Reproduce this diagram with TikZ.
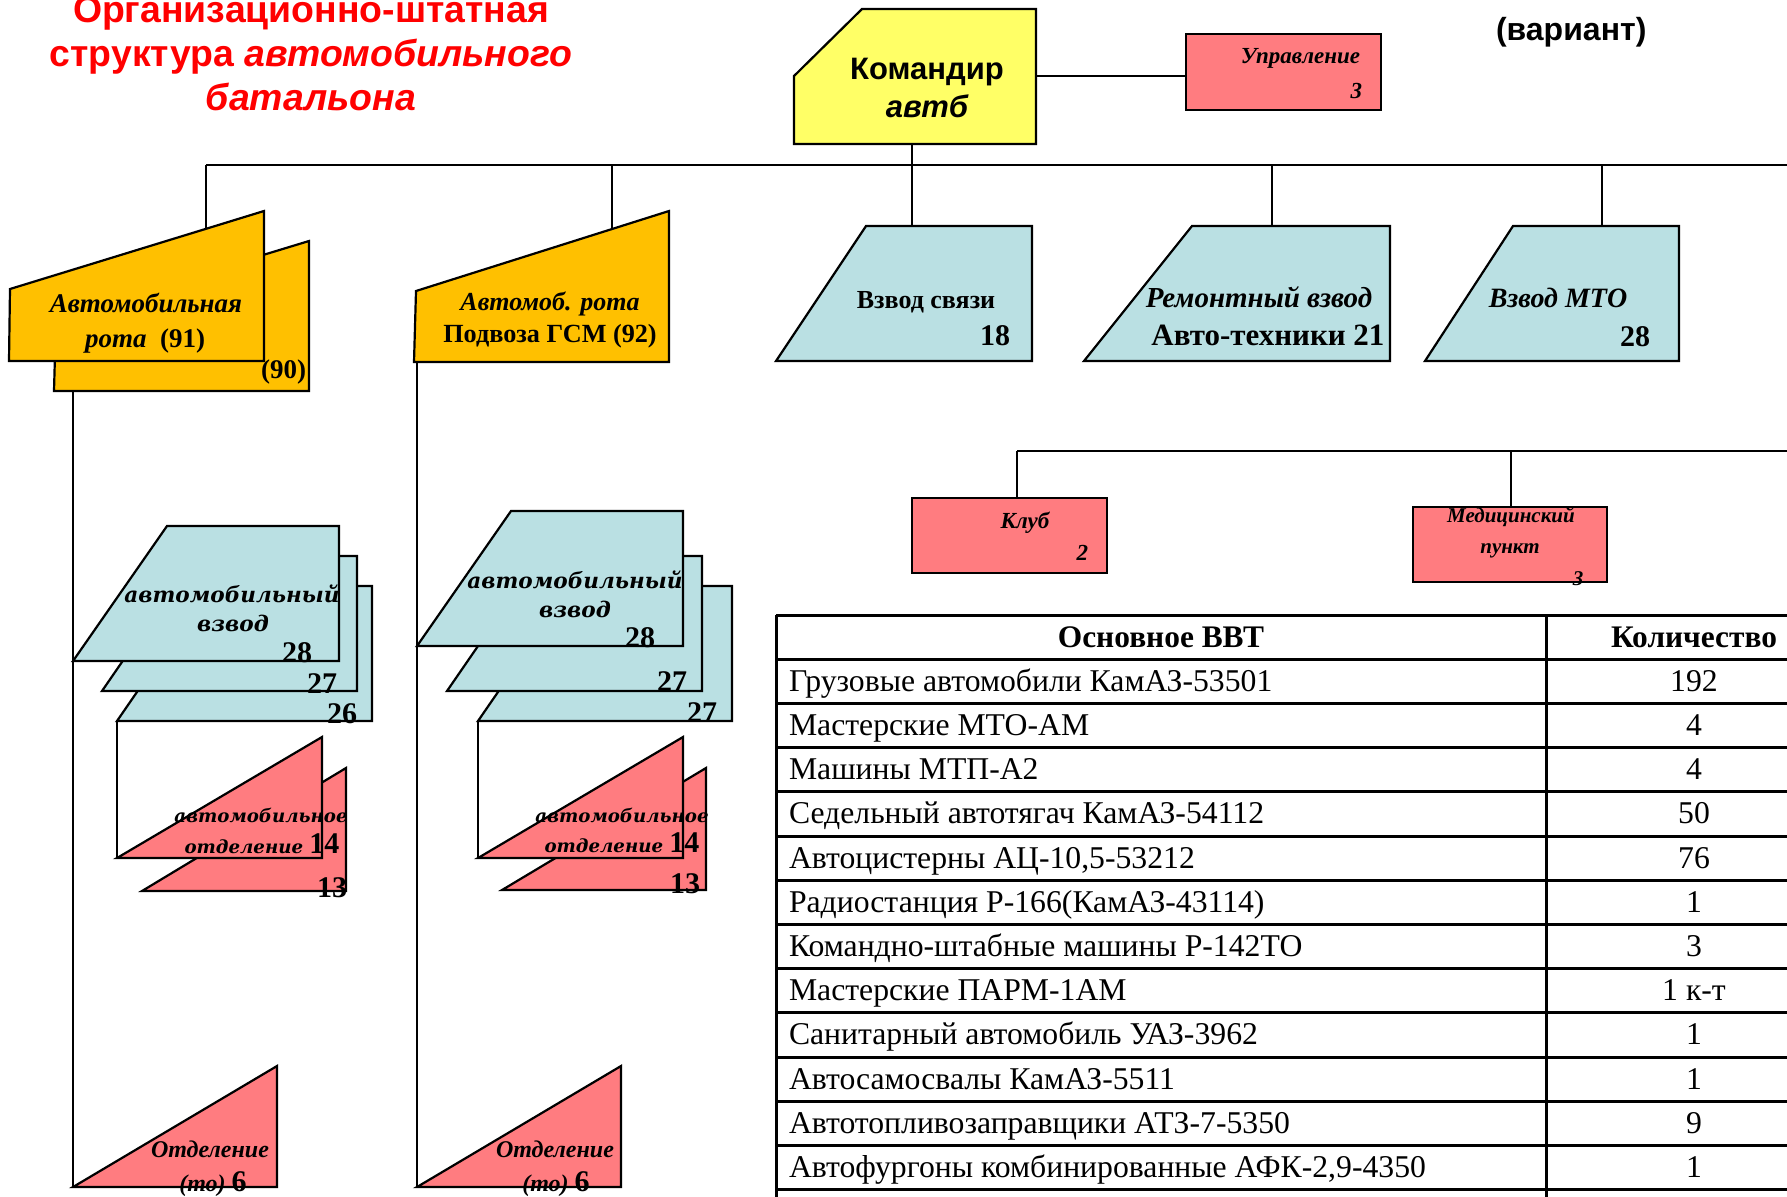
\documentclass[tikz,border=0pt]{standalone}
\usepackage{fontspec}
\setmainfont{Liberation Serif}
\newfontfamily\arialf{Liberation Sans}
\newfontfamily\bookf{DejaVu Serif}
\usetikzlibrary{calc}
\definecolor{cmdyellow}{HTML}{FFFF66}
\definecolor{rotaorange}{HTML}{FFC000}
\definecolor{vzblue}{HTML}{BAE0E3}
\definecolor{otpink}{HTML}{FF7C80}
\newcommand{\fsz}[1]{\fontsize{#1}{#1}\selectfont}
\begin{document}
\begin{tikzpicture}[x=0.5pt,y=-0.5pt,
 shp/.style={draw=black,line width=1.1pt,line join=miter},
 conn/.style={draw=black,line width=1pt},
 tbl/.style={draw=black,line width=1.5pt},
 txt/.style={inner sep=0pt,outer sep=0pt,anchor=base},
 txtr/.style={inner sep=0pt,outer sep=0pt,anchor=base east},
 txtl/.style={inner sep=0pt,outer sep=0pt,anchor=base west},
 rbox/.style={shp,fill=otpink,inner sep=0pt,outer sep=0pt,anchor=north west},
 tb/.style={font=\bfseries\fsz{13}},
 tbi/.style={font=\bfseries\itshape\fsz{13}},
 num/.style={font=\bfseries\fsz{15}},
 bk/.style={font=\bookf\bfseries\itshape\fsz{10.8}},
 bks/.style={font=\bookf\bfseries\itshape\fsz{9.1}},
 ttl/.style={font=\arialf\bfseries\fsz{18.7},text=red},
 tab/.style={font=\fsz{15.85}},
 tabh/.style={font=\bfseries\fsz{15.7}},
]
\useasboundingbox (0,0) rectangle (1787,1196);
\clip (0,0) rectangle (1787,1196);
\fill[white] (0,0) rectangle (1787,1196);

% ---------- title
\node[txt,ttl] (title1) at (311,22) {Организационно-штатная};
\node[txt,ttl] (title2) at (311,66) {структура \textit{автомобильного}};
\node[txt,ttl] (title3) at (311,110) {\textit{батальона}};
\node[txtl,font=\arialf\bfseries\fsz{16}] (variant) at (1496,40) {(вариант)};

% ---------- coordinates of the tree
\coordinate (cmdR) at (1036,76);
\coordinate (cmdB) at (912,144);
\coordinate (busL) at (206,165);
\coordinate (busR) at (1787,165);
\coordinate (r1top) at (206,228);
\coordinate (b2) at (612,165);
\coordinate (r2top) at (612,229);
\coordinate (b4) at (1272,165);
\coordinate (remtop) at (1272,226);
\coordinate (b5) at (1602,165);
\coordinate (mtotop) at (1602,226);
\coordinate (svtop) at (912,226);

% ---------- commander
\draw[shp,fill=cmdyellow] (794,76) -- (862,9) -- (1036,9) -- (1036,144) -- (794,144) -- cycle;
\node[txt,font=\arialf\bfseries\fsz{15.5}] (cmd1) at (927,79) {Командир};
\node[txt,font=\arialf\bfseries\itshape\fsz{15.5}] (cmd2) at (927,117) {автб};

% ---------- upravlenie
\node[rbox,minimum width=97.5pt,minimum height=38pt] (upr) at (1186,34) {};
\node[txtr,font=\bfseries\itshape\fsz{11.5}] (upr1) at (1360,63) {Управление};
\node[txtr,font=\bfseries\itshape\fsz{11.5}] (upr2) at (1362,98) {3};
\draw[conn] (cmdR) -- (cmdR -| upr.west);

% ---------- bus
\draw[conn] (busL) -- (busR);
\draw[conn] (busL) -- (r1top);
\draw[conn] (b2) -- (r2top);
\draw[conn] (cmdB) -- (svtop);
\draw[conn] (b4) -- (remtop);
\draw[conn] (b5) -- (mtotop);

% ---------- rota 1 (91)/(90)
\draw[shp,fill=rotaorange] (54,391) -- (309,391) -- (309,241) -- (56,318) -- cycle;
\node[txtr,font=\bfseries\fsz{13.5}] (r90) at (306,378) {(90)};
\draw[shp,fill=rotaorange] (9,361) -- (264,361) -- (264,211) -- (10,289) -- cycle;
\node[txt,font=\bfseries\itshape\fsz{13.5}] (r91a) at (146,312) {Автомобильная};
\node[txt,font=\bfseries\fsz{13.5}] (r91b) at (145,347) {\textit{рота}\ \ (91)};

% ---------- rota 2 (92)
\draw[shp,fill=rotaorange] (414,362) -- (669,362) -- (669,211) -- (416,291) -- cycle;
\node[txt,font=\bfseries\itshape\fsz{13}] (r92a) at (550,310) {Автомоб. рота};
\node[txt,font=\bfseries\fsz{13.1}] (r92b) at (550,342) {Подвоза ГСМ (92)};

% ---------- main verticals
\coordinate (v1a) at (73,391);
\coordinate (v1b) at (73,1187);
\coordinate (v2a) at (417,362);
\coordinate (v2b) at (417,1187);
\draw[conn] (v1a) -- (v1b);
\draw[conn] (v2a) -- (v2b);

% ---------- left platoon stack
\draw[shp,fill=vzblue] (117,721) -- (210,586) -- (372,586) -- (372,721) -- cycle;
\node[txtr,num] (l26) at (357,723) {26};
\draw[shp,fill=vzblue] (102,691) -- (195,556) -- (357,556) -- (357,691) -- cycle;
\node[txtr,num] (l27) at (337,693) {27};
\draw[shp,fill=vzblue] (73,661) -- (167,526) -- (339,526) -- (339,661) -- cycle;
\node[txtr,num] (l28) at (312,662) {28};
\node[txt,bk] (lvz1) at (232,602) {автомобильный};
\node[txt,bk] (lvz2) at (233,631) {взвод};

% ---------- right platoon stack
\draw[shp,fill=vzblue] (478,721) -- (571,586) -- (732,586) -- (732,721) -- cycle;
\node[txtr,num] (r27b) at (717,722) {27};
\draw[shp,fill=vzblue] (447,691) -- (540,556) -- (702,556) -- (702,691) -- cycle;
\node[txtr,num] (r27a) at (687,691) {27};
\draw[shp,fill=vzblue] (417,646) -- (511,511) -- (683,511) -- (683,646) -- cycle;
\node[txtr,num] (r28) at (655,647) {28};
\node[txt,bk] (rvz1) at (575,588) {автомобильный};
\node[txt,bk] (rvz2) at (575,617) {взвод};

% ---------- platoon -> section connectors
\coordinate (lc1) at (117,721);
\coordinate (lc2) at (117,858);
\coordinate (rc1) at (478,721);
\coordinate (rc2) at (478,858);
\draw[conn] (lc1) -- (lc2);
\draw[conn] (rc1) -- (rc2);

% ---------- left section stack
\draw[shp,fill=otpink] (142,891) -- (346,768) -- (346,891) -- cycle;
\node[txtr,num] (l13) at (347,897) {13};
\draw[shp,fill=otpink] (117,858) -- (322,737) -- (322,858) -- cycle;
\node[txt,bks] (lot1) at (261,822) {автомобильное};
\node[txt,bks] (lot2) at (262,853) {отделение {\normalfont\bfseries\fsz{15}14}};

% ---------- right section stack
\draw[shp,fill=otpink] (502,890) -- (706,768) -- (706,890) -- cycle;
\node[txtr,num] (r13) at (700,893) {13};
\draw[shp,fill=otpink] (478,858) -- (683,737) -- (683,858) -- cycle;
\node[txt,bks] (rot1) at (622,822) {автомобильное};
\node[txt,bks] (rot2) at (622,852) {отделение {\normalfont\bfseries\fsz{15}14}};

% ---------- bottom sections (to)
\draw[shp,fill=otpink] (73,1187) -- (277,1066) -- (277,1187) -- cycle;
\node[txt,font=\bfseries\itshape\fsz{12}] (lto1) at (210,1157) {Отделение};
\node[txt,font=\bfseries\itshape\fsz{12}] (lto2) at (213,1191) {(то) {\normalfont\bfseries\fsz{15}6}};
\draw[shp,fill=otpink] (417,1187) -- (621,1066) -- (621,1187) -- cycle;
\node[txt,font=\bfseries\itshape\fsz{12}] (rto1) at (555,1157) {Отделение};
\node[txt,font=\bfseries\itshape\fsz{12}] (rto2) at (556,1191) {(то) {\normalfont\bfseries\fsz{15}6}};

% ---------- vzvod svyazi
\draw[shp,fill=vzblue] (776,361) -- (866,226) -- (1032,226) -- (1032,361) -- cycle;
\node[txt,tb] (sv1) at (926,308) {Взвод связи};
\node[txtr,num] (sv2) at (1010,345) {18};

% ---------- remontny vzvod
\draw[shp,fill=vzblue] (1084,361) -- (1192,226) -- (1390,226) -- (1390,361) -- cycle;
\node[txt,font=\bfseries\itshape\fsz{14.5}] (rem1) at (1259,307) {Ремонтный взвод};
\node[txt,font=\bfseries\fsz{15.5}] (rem2) at (1268,345) {Авто-техники 21};

% ---------- vzvod MTO
\draw[shp,fill=vzblue] (1425,361) -- (1513,226) -- (1679,226) -- (1679,361) -- cycle;
\node[txt,font=\bfseries\itshape\fsz{14}] (mto1) at (1558,307) {Взвод МТО};
\node[txtr,num] (mto2) at (1650,346) {28};

% ---------- second bus: club, medical
\coordinate (s2L) at (1017,451);
\coordinate (s2R) at (1787,451);
\coordinate (s2M) at (1511,451);
\node[rbox,minimum width=97.5pt,minimum height=37.5pt] (club) at (912,498) {};
\node[rbox,minimum width=97pt,minimum height=37.5pt] (med) at (1413,507) {};
\draw[conn] (s2L) -- (s2R);
\draw[conn] (s2L) -- (s2L |- club.north);
\draw[conn] (s2M) -- (s2M |- med.north);
\node[txt,font=\bfseries\itshape\fsz{11.5}] (club1) at (1025,528) {Клуб};
\node[txtr,font=\bfseries\itshape\fsz{11.5}] (club2) at (1088,560) {2};
\node[txt,font=\bfseries\itshape\fsz{10.5}] (med1) at (1511,522) {Медицинский};
\node[txt,font=\bfseries\itshape\fsz{10.5}] (med2) at (1510,553) {пункт};
\node[txt,font=\bfseries\itshape\fsz{10.5}] (med3) at (1578,585) {3};

% ---------- table
\foreach \i in {0,...,13} {
  \draw[tbl] (776,{615+44.2*\i}) -- (1800,{615+44.2*\i});
}
\draw[tbl] (776,615) -- (776,1200);
\draw[tbl] (1546,615) -- (1546,1200);
\node[txt,tabh] (h1) at (1161,647) {Основное ВВТ};
\node[txt,tabh] (h2) at (1694,647) {Количество};
\node[txtl,tab] (a1) at (789,691) {Грузовые автомобили КамАЗ-53501};
\node[txt,tab] (n1) at (1694,691) {192};
\node[txtl,tab] (a2) at (789,735.4) {Мастерские МТО-АМ};
\node[txt,tab] (n2) at (1694,735.4) {4};
\node[txtl,tab] (a3) at (789,779.6) {Машины МТП-А2};
\node[txt,tab] (n3) at (1694,779.6) {4};
\node[txtl,tab] (a4) at (789,823.8) {Седельный автотягач КамАЗ-54112};
\node[txt,tab] (n4) at (1694,823.8) {50};
\node[txtl,tab] (a5) at (789,868) {Автоцистерны АЦ-10,5-53212};
\node[txt,tab] (n5) at (1694,868) {76};
\node[txtl,tab] (a6) at (789,912.2) {Радиостанция Р-166(КамАЗ-43114)};
\node[txt,tab] (n6) at (1694,912.2) {1};
\node[txtl,tab] (a7) at (789,956.4) {Командно-штабные машины Р-142ТО};
\node[txt,tab] (n7) at (1694,956.4) {3};
\node[txtl,tab] (a8) at (789,1000.6) {Мастерские ПАРМ-1АМ};
\node[txt,tab] (n8) at (1694,1000.6) {1 к-т};
\node[txtl,tab] (a9) at (789,1044.8) {Санитарный автомобиль УАЗ-3962};
\node[txt,tab] (n9) at (1694,1044.8) {1};
\node[txtl,tab] (a10) at (789,1089) {Автосамосвалы КамАЗ-5511};
\node[txt,tab] (n10) at (1694,1089) {1};
\node[txtl,tab] (a11) at (789,1133.2) {Автотопливозаправщики АТЗ-7-5350};
\node[txt,tab] (n11) at (1694,1133.2) {9};
\node[txtl,tab] (a12) at (789,1177.4) {Автофургоны комбинированные АФК-2,9-4350};
\node[txt,tab] (n12) at (1694,1177.4) {1};
\end{tikzpicture}
\end{document}
